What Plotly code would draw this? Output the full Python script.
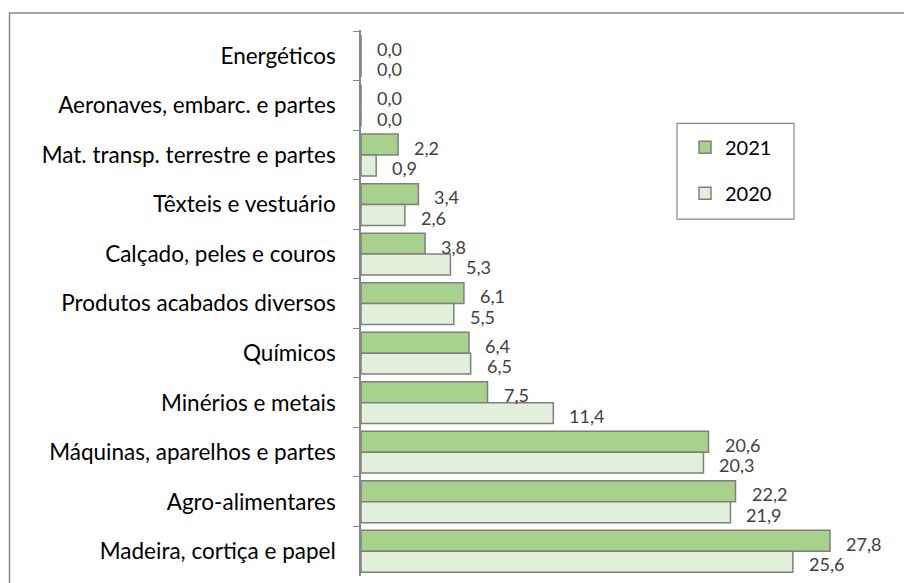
import plotly.graph_objects as go

categories = [
    "Energéticos",
    "Aeronaves, embarc. e partes",
    "Mat. transp. terrestre e partes",
    "Têxteis e vestuário",
    "Calçado, peles e couros",
    "Produtos acabados diversos",
    "Químicos",
    "Minérios e metais",
    "Máquinas, aparelhos e partes",
    "Agro-alimentares",
    "Madeira, cortiça e papel",
]
values_2021 = [0.0, 0.0, 2.2, 3.4, 3.8, 6.1, 6.4, 7.5, 20.6, 22.2, 27.8]
values_2020 = [0.0, 0.0, 0.9, 2.6, 5.3, 5.5, 6.5, 11.4, 20.3, 21.9, 25.6]
series_names = ["2021", "2020"]

W, H = 904, 583
# plot area in screen pixels
PL, PR, PT, PB = 361, 880, 29.6, 576.3
ML, MR = PL, W - PR
MT, MB = PT, H - PB
PW, PH = PR - PL, PB - PT


def px_x(x):
    return (x - PL) / PW


def px_y(y):
    return (PB - y) / PH


FONT = "Lato, 'Liberation Sans', sans-serif"
C2021 = "#a9d18e"
C2020 = "#e2efda"
EDGE = "#7f7f7f"
BORDER = "#888888"

fig = go.Figure()
fig.add_trace(go.Bar(
    y=categories, x=values_2021, orientation="h", name=series_names[0],
    marker=dict(color=C2021, line=dict(color=EDGE, width=1.5)),
    legendgroup="a",
))
fig.add_trace(go.Bar(
    y=categories, x=values_2020, orientation="h", name=series_names[1],
    marker=dict(color=C2020, line=dict(color=EDGE, width=1.5)),
    legendgroup="b",
))

annotations = []
for vals, ys in ((values_2021, 7.5), (values_2020, -13)):
    for c, v in zip(categories, vals):
        annotations.append(dict(
            x=v, y=c, xref="x", yref="y", text=f"{v:.1f}".replace(".", ","),
            showarrow=False, xanchor="left", yanchor="middle",
            xshift=14, yshift=ys,
            font=dict(family=FONT, size=18, color="#404040"),
        ))

shapes = [
    # outer chart border (top and left edges; right/bottom lie outside view)
    dict(type="line", xref="paper", yref="paper",
         x0=px_x(9), x1=px_x(W + 5), y0=px_y(12.5), y1=px_y(12.5),
         line=dict(color=BORDER, width=1.5)),
    dict(type="line", xref="paper", yref="paper",
         x0=px_x(9.5), x1=px_x(9.5), y0=px_y(12), y1=px_y(H + 5),
         line=dict(color=BORDER, width=1.5)),
    # legend box
    dict(type="rect", xref="paper", yref="paper",
         x0=px_x(677), x1=px_x(794), y0=px_y(219), y1=px_y(123),
         line=dict(color=BORDER, width=1.2), fillcolor="rgba(0,0,0,0)"),
]

fig.update_layout(
    width=W, height=H,
    margin=dict(l=ML, r=MR, t=MT, b=MB, autoexpand=False),
    paper_bgcolor="white", plot_bgcolor="white",
    barmode="group", bargap=0.155, bargroupgap=0,
    separators=",.",
    font=dict(family=FONT, size=16, color="black"),
    xaxis=dict(range=[0, PW / 16.87], showgrid=False, zeroline=False,
               showline=False, showticklabels=False, ticks=""),
    yaxis=dict(autorange="reversed", showgrid=False, zeroline=False,
               showline=True, linecolor="#868686", linewidth=1.5,
               ticks="outside", ticklen=6, tickcolor="#868686", tickwidth=1.2,
               tickson="boundaries", ticklabelstandoff=19,
               tickfont=dict(family=FONT, size=22.5, color="black")),
    legend=dict(x=px_x(685), y=px_y(127.5), xanchor="left", yanchor="top",
                bgcolor="rgba(0,0,0,0)", borderwidth=0,
                traceorder="grouped", tracegroupgap=17,
                font=dict(family=FONT, size=20, color="black")),
    annotations=annotations,
    shapes=shapes,
    showlegend=True,
)

fig.write_html(
    "out.html",
    config={"displayModeBar": False},
    post_script="document.body.style.margin='0';document.body.style.overflow='hidden';",
)
